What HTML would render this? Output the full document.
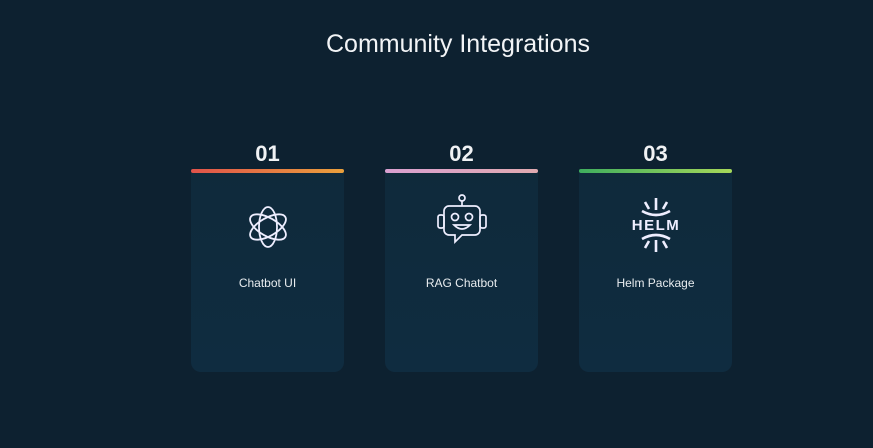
<!DOCTYPE html>
<html><head><style>
body{margin:0;width:873px;height:448px;background:#0d2130;font-family:"Liberation Sans",sans-serif;position:relative;overflow:hidden;color:#fff}
.t{position:absolute;left:0;width:916px;top:30px;text-align:center;font-size:25px;color:#f2f4f6}
.n{position:absolute;top:141px;width:153px;text-align:center;font-size:22px;font-weight:bold;color:#f0f2f4}
.c{position:absolute;top:169px;width:153px;height:203px;background:linear-gradient(#0f2a3b,#0f2c40);border-radius:0 0 10px 10px}
.bar{height:4px;border-radius:2px}
.l{position:absolute;top:107px;width:100%;text-align:center;font-size:12px;color:#e8ecef}
svg{position:absolute;left:50%;transform:translateX(-50%)}
</style></head><body>
<div class="t">Community Integrations</div>
<div class="n" style="left:191px">01</div>
<div class="n" style="left:385px">02</div>
<div class="n" style="left:579px">03</div>
<div class="c" style="left:191px"><div class="bar" style="background:linear-gradient(90deg,#e0534a,#eaa03c)"></div>
<svg style="top:33px" width="50" height="50" viewBox="0 0 50 50" fill="none" stroke="#eef" stroke-width="1.8">
<g transform="translate(25,25)">
<ellipse rx="9" ry="20" transform="rotate(0)"/><ellipse rx="9" ry="20" transform="rotate(60)"/><ellipse rx="9" ry="20" transform="rotate(120)"/></g></svg>
<div class="l">Chatbot UI</div></div>
<div class="c" style="left:385px"><div class="bar" style="background:linear-gradient(90deg,#d9a0d0,#e0aab0)"></div>
<svg style="top:24px" width="60" height="62" viewBox="0 0 60 62" fill="none" stroke="#eef" stroke-width="1.7">
<circle cx="30" cy="5" r="3"/><line x1="30" y1="8" x2="30" y2="13"/>
<path d="M17 13h26a5 5 0 0 1 5 5v19a5 5 0 0 1-5 5H30l-7 7v-7h-6a5 5 0 0 1-5-5V18a5 5 0 0 1 5-5z"/>
<rect x="6" y="22" width="6" height="13" rx="2"/><rect x="48" y="22" width="6" height="13" rx="2"/>
<circle cx="23" cy="24" r="3.5"/><circle cx="37" cy="24" r="3.5"/><path d="M22 32q8 8 16 0z"/></svg>
<div class="l">RAG Chatbot</div></div>
<div class="c" style="left:579px"><div class="bar" style="background:linear-gradient(90deg,#3fae5e,#a6d85a)"></div>
<svg style="top:27px" width="60" height="58" viewBox="0 0 60 58" fill="none" stroke="#eef" stroke-width="2.6">
<path d="M16 15q14 8 28 0M30 2v12M19 6l4 7M41 6l-4 7"/>
<path d="M16 43q14-8 28 0M30 56v-12M19 52l4-7M41 52l-4-7"/>
<text x="30" y="34" text-anchor="middle" fill="#eef" stroke="none" font-size="15" font-weight="bold" letter-spacing="1.5" font-family="Liberation Sans">HELM</text></svg>
<div class="l">Helm Package</div></div>
</body></html>
